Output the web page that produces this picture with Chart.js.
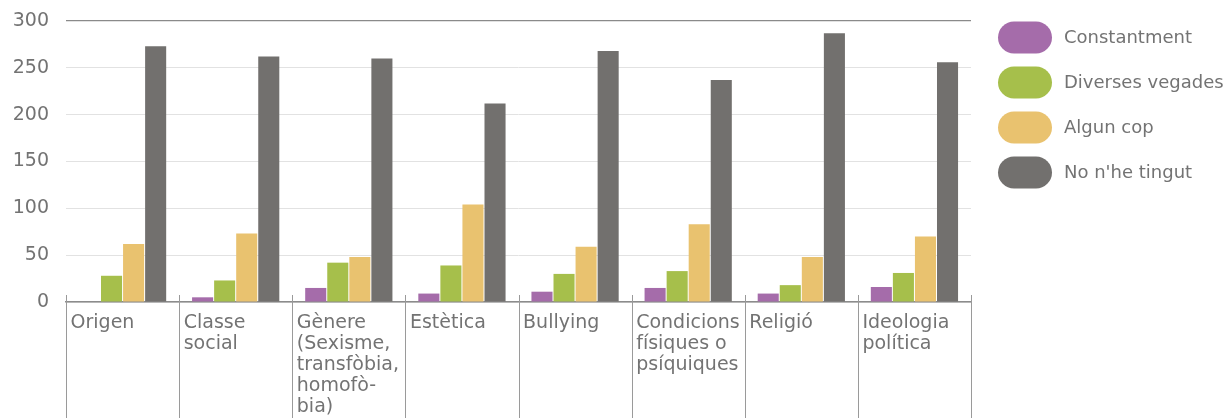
<!DOCTYPE html>
<html>
<head>
<meta charset="utf-8">
<script src="https://cdn.jsdelivr.net/npm/chart.js@4/dist/chart.umd.min.js"></script>
<style>
  html, body { margin: 0; padding: 0; background: #fff; }
  #wrap { width: 1225px; height: 418px; position: relative; }
</style>
</head>
<body>
<div id="wrap"><canvas id="chart1"></canvas></div>
<script>
// categories (multi-line as in the original)
var categories = [
	["Origen"],
	["Classe", "social"],
	["Gènere", "(Sexisme,", "transfòbia,", "homofò-", "bia)"],
	["Estètica"],
	["Bullying"],
	["Condicions", "físiques o", "psíquiques"],
	["Religió"],
	["Ideologia", "política"]
];
var constantment = [0, 5, 15, 9, 11, 15, 9, 16];
var diversesVegades = [28, 23, 42, 39, 30, 33, 18, 31];
var algunCop = [62, 73, 48, 104, 59, 83, 48, 70];
var noHeTingut = [273, 262, 260, 212, 268, 237, 287, 256];
var yTicks = [0, 50, 100, 150, 200, 250, 300];

var textGrey = '#737373';
var fontFamily = "'DejaVu Sans', sans-serif";

// vertical separators between categories, running down through the label area
var separators = {
	id: 'separators',
	afterDraw: function(chart) {
		var x = chart.scales.x;
		var ctx = chart.ctx;
		var n = categories.length;
		var w = (x.right - x.left) / n;
		ctx.save();
		ctx.strokeStyle = '#9a9a9a';
		ctx.lineWidth = 1;
		for (var i = 0; i <= n; i++) {
			var px = Math.round(x.left + i * w) + 0.5;
			ctx.beginPath();
			ctx.moveTo(px, chart.chartArea.bottom - 7);
			ctx.lineTo(px, chart.height);
			ctx.stroke();
		}
		ctx.restore();
	}
};

// legend with pill shaped swatches, to the right of the plot
var pillLegend = {
	id: 'pillLegend',
	afterDraw: function(chart) {
		var ctx = chart.ctx;
		var x0 = chart.chartArea.right + 27;
		var y0 = chart.chartArea.top + 0.5;
		ctx.save();
		chart.data.datasets.forEach(function(ds, i) {
			var y = y0 + i * 45;
			ctx.fillStyle = ds.backgroundColor;
			ctx.beginPath();
			ctx.roundRect(x0, y, 54, 32, 16);
			ctx.fill();
			ctx.fillStyle = textGrey;
			ctx.font = '18px ' + fontFamily;
			ctx.textBaseline = 'middle';
			ctx.textAlign = 'left';
			ctx.fillText(ds.label, x0 + 66, y + 17);
		});
		ctx.restore();
	}
};

var ctx = document.getElementById("chart1").getContext("2d");
new Chart(ctx, {
	type: 'bar',
	data: {
		labels: categories,
		datasets: [
			{ label: "Constantment", data: constantment, backgroundColor: '#a56caa' },
			{ label: "Diverses vegades", data: diversesVegades, backgroundColor: '#a6bf4b' },
			{ label: "Algun cop", data: algunCop, backgroundColor: '#e9c26f' },
			{ label: "No n'he tingut", data: noHeTingut, backgroundColor: '#72706e' }
		]
	},
	options: {
		responsive: true,
		maintainAspectRatio: false,
		animation: false,
		categoryPercentage: 0.78,
		barPercentage: 0.955,
		layout: { padding: { left: 12, top: 21, right: 254, bottom: 0 } },
		plugins: {
			tooltip: { enabled: false },
			legend: { display: false }
		},
		scales: {
			x: {
				afterFit: function(axis) {
					axis.height = 116;
					axis.paddingTop = 0;
				},
				grid: { display: false, drawTicks: false },
				border: { display: true, color: '#8c8c8c', width: 1.5 },
				ticks: {
					autoSkip: false,
					maxRotation: 0,
					minRotation: 0,
					align: 'start',
					labelOffset: -52,
					padding: 11,
					color: textGrey,
					font: { family: fontFamily, size: 19, lineHeight: 1.1 }
				}
			},
			y: {
				min: 0,
				max: 300,
				afterFit: function(axis) {
					axis.width = 54;
					axis.paddingTop = 0;
					axis.paddingBottom = 0;
				},
				afterBuildTicks: function(axis) {
					axis.ticks = yTicks.map(function(v) { return { value: v }; });
				},
				border: { display: false },
				grid: {
					drawTicks: false,
					color: function(c) { return c.tick && c.tick.value === 300 ? '#8a8a8a' : '#e2e2e2'; },
					lineWidth: function(c) { return c.tick && c.tick.value === 300 ? 1.3 : 1; }
				},
				ticks: {
					padding: 17,
					color: textGrey,
					font: { family: fontFamily, size: 19 }
				}
			}
		}
	},
	plugins: [separators, pillLegend]
});
</script>
</body>
</html>
